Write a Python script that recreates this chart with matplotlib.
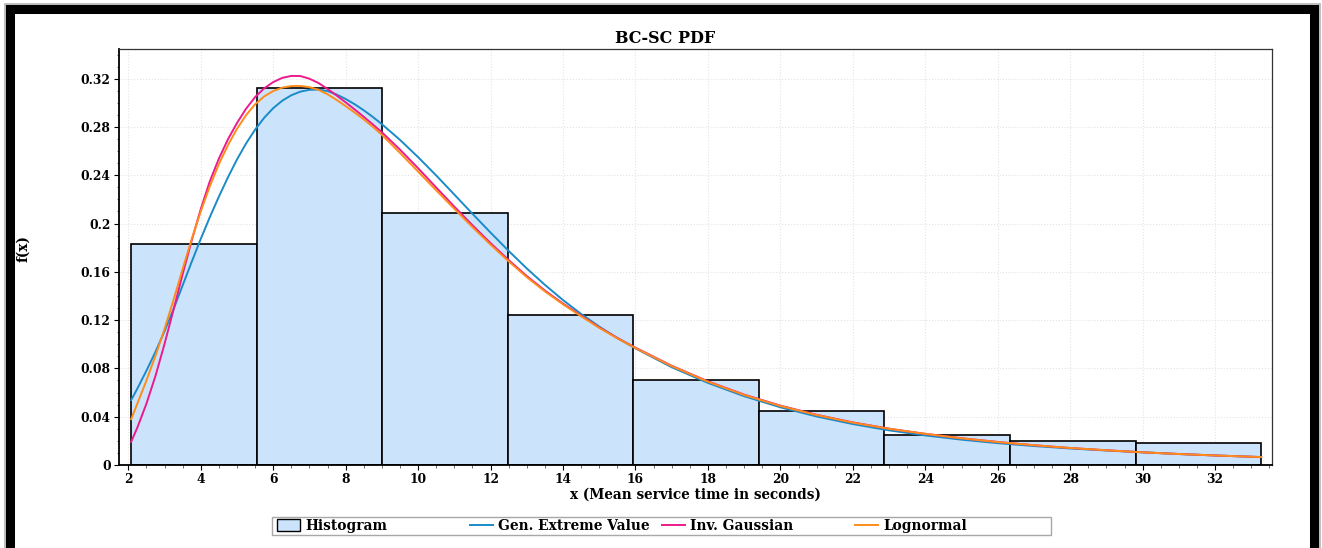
import matplotlib
matplotlib.use('Agg')
import numpy as np
import matplotlib.pyplot as plt
from matplotlib.patches import Rectangle, Patch
from matplotlib.lines import Line2D
from matplotlib.ticker import MultipleLocator

# histogram (density per bin)
bin_edges = [2.075, 5.541, 9.007, 12.473, 15.939, 19.405, 22.871, 26.337, 29.803, 33.269]
hist_density = [0.183, 0.3127, 0.2087, 0.1239, 0.0704, 0.0444, 0.0247, 0.0201, 0.018]

# fitted pdf curves
x_fit = [2.08, 2.25, 2.5, 2.75, 3.0, 3.25, 3.5, 3.75, 4.0, 4.25,
         4.5, 4.75, 5.0, 5.25, 5.5, 5.75, 6.0, 6.25, 6.5, 6.75,
         7.0, 7.25, 7.5, 7.75, 8.0, 8.25, 8.5, 8.75, 9.0,
         9.5, 10, 10.5, 11, 11.5, 12, 12.5, 13, 13.5, 14, 14.5, 15, 15.5, 16,
         17, 18, 19, 20, 21, 22, 23, 24, 25, 26, 27, 28, 29, 30, 31, 32, 33.27]
gev_pdf = [0.0538, 0.0633, 0.0781, 0.0938, 0.1108, 0.1293, 0.1488, 0.1683, 0.1873, 0.2053,
           0.2223, 0.2383, 0.2531, 0.2663, 0.2778, 0.2876, 0.2956, 0.3018, 0.3063, 0.3093,
           0.3108, 0.3110, 0.3097, 0.3069, 0.3032, 0.2988, 0.2938, 0.2883, 0.2823,
           0.2693, 0.2550, 0.2398, 0.2240, 0.2081, 0.1925, 0.1773, 0.1628, 0.1492, 0.1366,
           0.1251, 0.1146, 0.1051, 0.0966,
           0.0810, 0.0680, 0.0570, 0.0478, 0.0402, 0.0339, 0.0287, 0.0245, 0.0210, 0.0181,
           0.0157, 0.0137, 0.0120, 0.0105, 0.0091, 0.0079, 0.0066]
invgauss_pdf = [0.0193, 0.031, 0.0508, 0.0738, 0.1003, 0.1288, 0.1581, 0.186, 0.212, 0.235,
                0.2538, 0.2698, 0.2833, 0.2951, 0.3048, 0.3120, 0.3172, 0.3207, 0.3223, 0.3222,
                0.3200, 0.3164, 0.3115, 0.3061, 0.3004, 0.2945, 0.2884, 0.2821, 0.2756,
                0.2612, 0.2458, 0.2298, 0.2140, 0.1986, 0.1838, 0.1697, 0.1565, 0.1445, 0.1337,
                0.1237, 0.1140, 0.1052, 0.0972,
                0.0822, 0.0693, 0.0583, 0.0492, 0.0416, 0.0353, 0.0301, 0.0258, 0.0222, 0.0191,
                0.0164, 0.0141, 0.0122, 0.0105, 0.0091, 0.0079, 0.0065]
lognorm_pdf = [0.038, 0.0509, 0.070, 0.0905, 0.1127, 0.137, 0.1623, 0.1871, 0.2101, 0.2309,
               0.2492, 0.265, 0.2785, 0.2898, 0.2988, 0.3053, 0.3098, 0.3126, 0.3139, 0.3140,
               0.3130, 0.3108, 0.3071, 0.3024, 0.2973, 0.2919, 0.2862, 0.2801, 0.2735,
               0.2585, 0.243, 0.2275, 0.2122, 0.197, 0.1825, 0.1687, 0.1556, 0.1438, 0.1331,
               0.1232, 0.1136, 0.1049, 0.0969,
               0.0819, 0.0690, 0.0580, 0.0489, 0.0414, 0.0351, 0.0300, 0.0258, 0.0221, 0.0190,
               0.0164, 0.0141, 0.0122, 0.0105, 0.0091, 0.0079, 0.0066]

labels = ['Histogram', 'Gen. Extreme Value', 'Inv. Gaussian', 'Lognormal']
bar_color = '#cce4fb'
line_colors = ['#1a8bc8', '#ec1a8c', '#ff8c1a']

plt.rcParams['font.family'] = ['DejaVu Serif']
plt.rcParams['font.weight'] = 'bold'
plt.rcParams['axes.labelweight'] = 'bold'
plt.rcParams['axes.titleweight'] = 'bold'

W, H = 1322, 548
fig = plt.figure(figsize=(W / 100, H / 100), dpi=100)
ax = fig.add_axes([119 / W, 1 - 465 / H, (1272 - 119) / W, (465 - 49) / H])

edges = np.array(bin_edges)
ax.bar(edges[:-1], hist_density, width=np.diff(edges), align='edge',
       color=bar_color, edgecolor='black', linewidth=1.2, zorder=2)
for ys, c in zip([gev_pdf, invgauss_pdf, lognorm_pdf], line_colors):
    ax.plot(x_fit, ys, color=c, lw=1.4, zorder=3)

ax.set_xlim(1.743, 33.57)
ax.set_ylim(0, 0.3446)
ax.xaxis.set_major_locator(MultipleLocator(2))
ax.xaxis.set_minor_locator(MultipleLocator(0.5))
ax.yaxis.set_minor_locator(MultipleLocator(0.01))
ax.set_yticks(np.arange(0, 0.33, 0.04))
ax.set_yticklabels(['0', '0.04', '0.08', '0.12', '0.16', '0.2', '0.24', '0.28', '0.32'])
ax.tick_params(which='major', direction='out', length=3.5, width=0.8, labelsize=8.8, pad=2.5)
ax.tick_params(which='minor', direction='out', length=1.8, width=0.6, color='#555555')
ax.grid(True, which='major', color='#e4e4e4', linestyle=':', linewidth=0.8)
ax.set_axisbelow(True)
for s in ['left', 'bottom']:
    ax.spines[s].set_linewidth(1.3)
for s in ['top', 'right']:
    ax.spines[s].set_linewidth(0.9)
    ax.spines[s].set_color('#333333')

ax.set_title('BC-SC PDF', fontsize=11.5, pad=4, x=0.474)
ax.set_xlabel('x (Mean service time in seconds)', fontsize=9.8, labelpad=0.8)
ax.set_ylabel('f(x)', fontsize=9.8)
ax.yaxis.set_label_coords(-0.077, 0.52)

# legend: one row, entries at fixed spacing inside a grey box
handles = [Patch(facecolor=bar_color, edgecolor='black', linewidth=1.0)] + \
          [Line2D([], [], color=c, lw=1.4) for c in line_colors]
starts = [277, 470, 662, 855]
ly = 1 - 526 / H
for h, lab, sx in zip(handles, labels, starts):
    fig.legend([h], [lab], loc='center left', bbox_to_anchor=(sx / W, ly),
               bbox_transform=fig.transFigure, frameon=False, borderpad=0,
               borderaxespad=0, handlelength=1.7, handleheight=0.95,
               handletextpad=0.35, prop={'size': 9.9, 'weight': 'bold'})
fig.add_artist(Rectangle((272 / W, 1 - 535 / H), (1051 - 272) / W, 18 / H,
                         transform=fig.transFigure, fill=False, ec='#a8a8a8', lw=1.0))

# outer black frame with a faint grey edge
fig.add_artist(Rectangle((5 / W, 1 - 552 / H), (1319.5 - 5) / W, (552 - 3.8) / H,
                         transform=fig.transFigure, fill=False, ec='#b4b4b4', lw=1.2))
fig.add_artist(Rectangle((9.5 / W, 1 - 550 / H), (1314 - 9.5) / W, (550 - 8.5) / H,
                         transform=fig.transFigure, fill=False, ec='black', lw=6.5))

fig.savefig('out.png', dpi=100)
